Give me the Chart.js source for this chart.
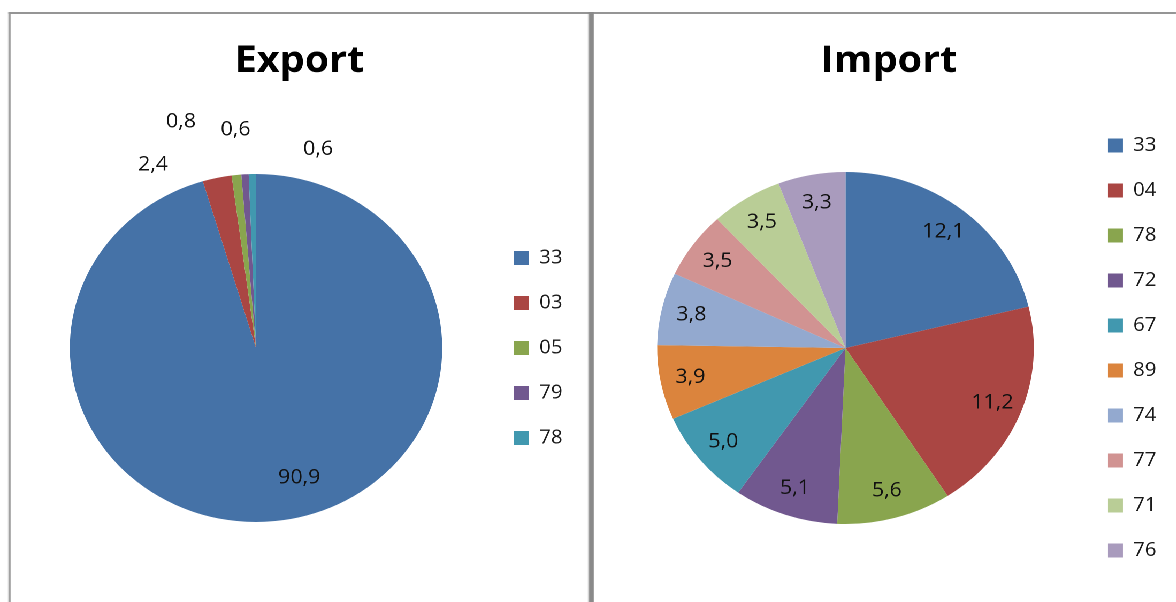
<!DOCTYPE html>
<html>
<head>
<meta charset="utf-8">
<script src="https://cdn.jsdelivr.net/npm/chart.js@4/dist/chart.umd.min.js"></script>
<style>
  html, body { margin: 0; padding: 0; background: #fff; overflow: hidden; }
  #stage {
    position: relative;
    width: 1099px;
    height: 602px;
    transform: scaleX(1.07);
    transform-origin: 0 0;
  }
  .rule { position: absolute; background: #8a8a8a; }
  .rule.top { left: 8.4px; top: 12px; width: 1091px; height: 2px; background: #959595; }
  .rule.left { left: 8.4px; top: 12px; width: 1.9px; height: 590px; background: #959595; }
  .rule.split { left: 550.3px; top: 12px; width: 4.8px; height: 590px; }
  canvas { position: absolute; top: 14px; }
  #exportChart { left: 10.5px; }
  #importChart { left: 556px; }
</style>
</head>
<body>
<div id="stage">
  <div class="rule top"></div>
  <div class="rule left"></div>
  <div class="rule split"></div>
  <canvas id="exportChart" width="540" height="588"></canvas>
  <canvas id="importChart" width="543" height="588"></canvas>
</div>
<script>
// shares in percent, by product code
const exportCodes = ['33', '03', '05', '79', '78'];
const exportShares = [90.9, 2.4, 0.8, 0.6, 0.6];

const importCodes = ['33', '04', '78', '72', '67', '89', '74', '77', '71', '76'];
const importShares = [12.1, 11.2, 5.6, 5.1, 5.0, 3.9, 3.8, 3.5, 3.5, 3.3];

const palette = [
  '#4572A7', '#AA4643', '#89A54E', '#71588F', '#4198AF',
  '#DB843D', '#93A9CF', '#D19392', '#B9CD96', '#A99BBD'
];

const FONT = "'Open Sans', 'Liberation Sans', sans-serif";

// writes each slice's value (decimal comma) along the slice's middle angle
const sliceLabels = {
  id: 'sliceLabels',
  afterDatasetsDraw(chart, args, opts) {
    const ctx = chart.ctx;
    const values = chart.data.datasets[0].data;
    ctx.save();
    ctx.font = '20px ' + FONT;
    ctx.fillStyle = '#111';
    ctx.textAlign = 'center';
    ctx.textBaseline = 'middle';
    chart.getDatasetMeta(0).data.forEach((arc, i) => {
      const p = arc.getProps(['x', 'y', 'startAngle', 'endAngle', 'outerRadius'], true);
      const k = opts.distance ? opts.distance[i] : 0.84;
      const turn = (opts.turn ? opts.turn[i] : 0) * Math.PI / 180;
      const a = (p.startAngle + p.endAngle) / 2 + turn;
      const r = p.outerRadius * k;
      ctx.fillText(values[i].toFixed(1).replace('.', ','), p.x + Math.cos(a) * r, p.y + Math.sin(a) * r);
    });
    ctx.restore();
  }
};

function makePie(id, title, codes, shares, radius, padding, labelOpts) {
  return new Chart(document.getElementById(id), {
    type: 'pie',
    data: {
      labels: codes,
      datasets: [{
        data: shares,
        backgroundColor: palette.slice(0, codes.length),
        borderWidth: 0,
        radius: radius
      }]
    },
    options: {
      responsive: false,
      devicePixelRatio: 2,
      animation: false,
      events: [],
      layout: { padding: padding },
      plugins: {
        title: {
          display: true,
          text: title,
          color: '#000',
          font: { family: FONT, size: 37, weight: 'bold', lineHeight: 1.2 },
          padding: { top: 25.3, bottom: 10.3 }
        },
        legend: {
          position: 'right',
          fullSize: false,
          labels: {
            boxWidth: 14,
            boxHeight: 14,
            padding: 26,
            color: '#1a1a1a',
            font: { family: FONT, size: 19 }
          }
        },
        tooltip: { enabled: false },
        sliceLabels: labelOpts
      }
    },
    plugins: [sliceLabels]
  });
}

document.fonts.load('bold 37px "Open Sans"').then(() => document.fonts.load('20px "Open Sans"')).then(() => {
  // the small export slices get their labels set outside the pie
  makePie('exportChart', 'Export', exportCodes, exportShares, 174,
    { left: 13.1, right: 15.3, top: 0, bottom: 0 },
    { distance: [0.78, 1.19, 1.36, 1.26, 1.19], turn: [-9, -15.6, -11.2, -1.6, 17.4] });

  makePie('importChart', 'Import', importCodes, importShares, 176,
    { left: 14.9, right: 8.3, top: 0, bottom: 0 },
    {});
});
</script>
</body>
</html>
